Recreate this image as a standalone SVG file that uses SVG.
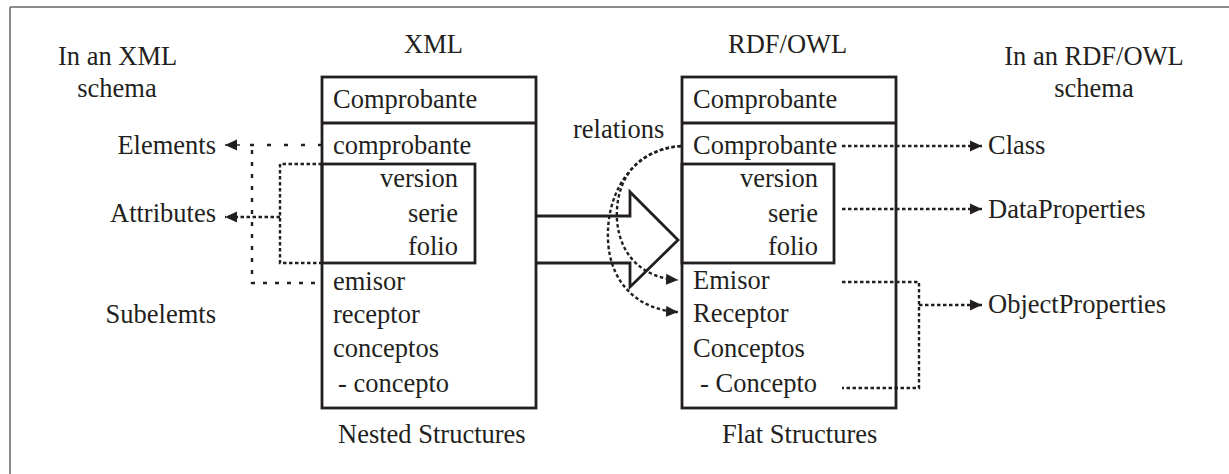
<svg xmlns="http://www.w3.org/2000/svg" width="1229" height="474" viewBox="0 0 1229 474">
<defs>
<style>
text{font-family:"Liberation Serif","Times New Roman",serif;font-size:26.5px;fill:#231f20}
.box{fill:none;stroke:#231f20;stroke-width:2.8}
.end{text-anchor:end}
.mid{text-anchor:middle}
.dot{fill:none;stroke:#231f20;stroke-width:2.4;stroke-dasharray:3.5 2.5}
.dashh{fill:none;stroke:#231f20;stroke-width:2.4;stroke-dasharray:4 13}
.dashv{fill:none;stroke:#231f20;stroke-width:2.4;stroke-dasharray:4 8}
.thin{fill:none;stroke:#231f20;stroke-width:1.4}
</style>
<marker id="ah" viewBox="0 0 12 12" refX="12" refY="6" markerWidth="12" markerHeight="12" markerUnits="userSpaceOnUse" orient="auto">
<path d="M0,0.5 L12,6 L0,11.5 z" fill="#231f20"/>
</marker>
</defs>
<rect width="1229" height="474" fill="#fff"/>
<g id="frame">
<line x1="10" y1="7" x2="1229" y2="7" stroke="#666" stroke-width="1.5"/>
<line x1="10" y1="7" x2="10" y2="474" stroke="#666" stroke-width="1.5"/>
</g>
<g id="labels">
<text x="58" y="65">In an XML</text>
<text x="117" y="97" class="mid">schema</text>
<text x="404" y="53">XML</text>
<text x="728" y="53">RDF/OWL</text>
<text x="1094" y="65" class="mid">In an RDF/OWL</text>
<text x="1094" y="97" class="mid">schema</text>
<text x="216" y="154" class="end">Elements</text>
<text x="216" y="222" class="end">Attributes</text>
<text x="216" y="323" class="end">Subelemts</text>
<text x="573" y="138">relations</text>
<text x="988" y="154">Class</text>
<text x="988" y="218">DataProperties</text>
<text x="988" y="313">ObjectProperties</text>
<text x="338" y="443">Nested Structures</text>
<text x="722" y="443">Flat Structures</text>
</g>
<g id="xml-node">
<rect x="322" y="77" width="214" height="331" class="box"/>
<line x1="322" y1="123" x2="536" y2="123" class="box"/>
<rect x="322" y="164" width="153" height="99" class="box"/>
<text x="333" y="108">Comprobante</text>
<text x="333" y="154">comprobante</text>
<text x="458" y="187" class="end">version</text>
<text x="458" y="222" class="end">serie</text>
<text x="458" y="255" class="end">folio</text>
<text x="333" y="290">emisor</text>
<text x="333" y="323">receptor</text>
<text x="333" y="357">conceptos</text>
<text x="338" y="392">- concepto</text>
</g>
<g id="rdf-node">
<rect x="682" y="77" width="214" height="331" class="box"/>
<line x1="682" y1="123" x2="896" y2="123" class="box"/>
<rect x="682" y="164" width="152" height="99" class="box"/>
<text x="693" y="108">Comprobante</text>
<text x="693" y="154">Comprobante</text>
<text x="818" y="187" class="end">version</text>
<text x="818" y="222" class="end">serie</text>
<text x="818" y="255" class="end">folio</text>
<text x="693" y="289">Emisor</text>
<text x="693" y="322">Receptor</text>
<text x="693" y="357">Conceptos</text>
<text x="700" y="392">- Concepto</text>
</g>
<g id="connectors">
<polyline points="536,216 630,216 630,192 678,240 630,287 630,263 536,263" fill="none" stroke="#231f20" stroke-width="2.8"/>
<line x1="240" y1="145" x2="225" y2="145" class="thin" marker-end="url(#ah)"/>
<line x1="322" y1="145" x2="236" y2="145" class="dashh"/>
<polyline points="252,150 252,283 322,283" class="dashv"/>
<polyline points="322,164 280,164 280,263 322,263" class="dot"/>
<line x1="280" y1="217" x2="225" y2="217" class="dot" marker-end="url(#ah)"/>
<line x1="842" y1="146" x2="982" y2="146" class="dot" marker-end="url(#ah)"/>
<line x1="842" y1="209" x2="982" y2="209" class="dot" marker-end="url(#ah)"/>
<polyline points="842,282 919,282 919,388 842,388" class="dot"/>
<line x1="919" y1="305" x2="982" y2="305" class="dot" marker-end="url(#ah)"/>
<path d="M681,146 C630,150 606,195 608,240 C610,285 640,310 678,312" class="dot" marker-end="url(#ah)"/>
<path d="M681,146 C632,150 615,185 617,220 C620,258 645,278 678,280" class="dot" marker-end="url(#ah)"/>
</g>
</svg>
